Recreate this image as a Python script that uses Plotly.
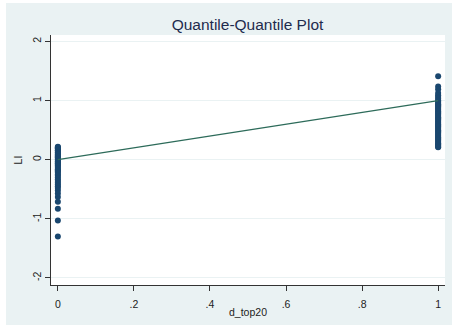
import plotly.graph_objects as go

# data
grp0_x = 0
grp0_y = [-1.30, -1.03, -0.83, -0.71, -0.63, -0.57, -0.52, -0.48, -0.45, -0.42,
          -0.39, -0.36, -0.33, -0.30, -0.27, -0.25, -0.22, -0.20, -0.18, -0.16,
          -0.14, -0.12, -0.10, -0.08, -0.06, -0.05, -0.03, -0.02, 0.00, 0.01,
          0.03, 0.04, 0.06, 0.07, 0.09, 0.10, 0.12, 0.13, 0.15, 0.16, 0.18,
          0.19, 0.20, 0.21, 0.22]
grp1_x = 1
grp1_y = [1.41, 1.24, 1.19, 1.13, 1.09, 1.06, 1.03, 1.00, 0.98, 0.96, 0.94, 0.92,
          0.90, 0.88, 0.86, 0.84, 0.82, 0.80, 0.78, 0.76, 0.74, 0.72, 0.70, 0.68,
          0.66, 0.64, 0.62, 0.60, 0.58, 0.56, 0.54, 0.52, 0.50, 0.48, 0.46, 0.44,
          0.42, 0.40, 0.38, 0.36, 0.34, 0.32, 0.30, 0.28, 0.26, 0.24, 0.22, 0.21]
ref_x = [0, 1]
ref_y = [0, 1]
x_ticks = [0, 0.2, 0.4, 0.6, 0.8, 1]
x_labels = ["0", ".2", ".4", ".6", ".8", "1"]
y_ticks = [-2, -1, 0, 1, 2]
y_labels = ["-2", "-1", "0", "1", "2"]

W, H = 452, 329
L, R, T, B = 51, 7, 35, 44
pw, ph = W - L - R, H - T - B


def px_x(p):
    return (p - L) / pw


def px_y(p):
    return (T + ph - p) / ph


fig = go.Figure()
fig.add_trace(go.Scatter(
    x=[grp0_x] * len(grp0_y) + [grp1_x] * len(grp1_y),
    y=grp0_y + grp1_y,
    mode="markers", cliponaxis=False,
    marker=dict(color="#1a476f", size=6),
    showlegend=False, hoverinfo="skip"))
fig.add_trace(go.Scatter(
    x=ref_x, y=ref_y, mode="lines",
    line=dict(color="#2d6b5a", width=1.2),
    showlegend=False, hoverinfo="skip"))

# white outer frame strips (paper background is the light blue-gray)
for x0, x1, y0, y1 in [(0, 6, 0, H), (0, W, 0, 3), (0, W, 325, H)]:
    fig.add_shape(type="rect", xref="paper", yref="paper",
                  x0=px_x(x0), x1=px_x(x1), y0=px_y(y1), y1=px_y(y0),
                  fillcolor="white", line=dict(width=0), layer="below")

font = "Liberation Sans, Arial, sans-serif"
fig.update_layout(
    width=W, height=H,
    margin=dict(l=L, r=R, t=T, b=B, autoexpand=False),
    paper_bgcolor="#eaf2f3", plot_bgcolor="white",
    font=dict(family=font, color="#222222", size=10),
    title=dict(text="Quantile-Quantile Plot", x=247.5 / W, xanchor="center",
               y=1 - 25 / H, yanchor="middle",
               font=dict(size=15.5, color="#1e2b4d", family=font)),
    xaxis=dict(range=[-0.018, 1.018], tickvals=x_ticks, ticktext=x_labels,
               automargin=False, ticklabelstandoff=4,
               showgrid=False, zeroline=False, showline=True, linecolor="#333333",
               linewidth=1, ticks="outside", ticklen=5, tickcolor="#333333",
               tickfont=dict(size=10.5),
               title=dict(text="d_top20", font=dict(size=10.5), standoff=0)),
    yaxis=dict(range=[-2.12, 2.11], tickvals=y_ticks, ticktext=y_labels,
               automargin=False,
               tickangle=-90, showgrid=True, gridcolor="#eaf2f3", gridwidth=1,
               zeroline=False, showline=True, linecolor="#333333", linewidth=1,
               ticks="outside", ticklen=5, tickcolor="#333333",
               tickfont=dict(size=10.5),
               title=dict(text="LI", font=dict(size=10.5), standoff=6)),
)
fig.write_html("out.html", config={"displayModeBar": False},
               post_script="document.body.style.margin='0';document.body.style.padding='0';")
